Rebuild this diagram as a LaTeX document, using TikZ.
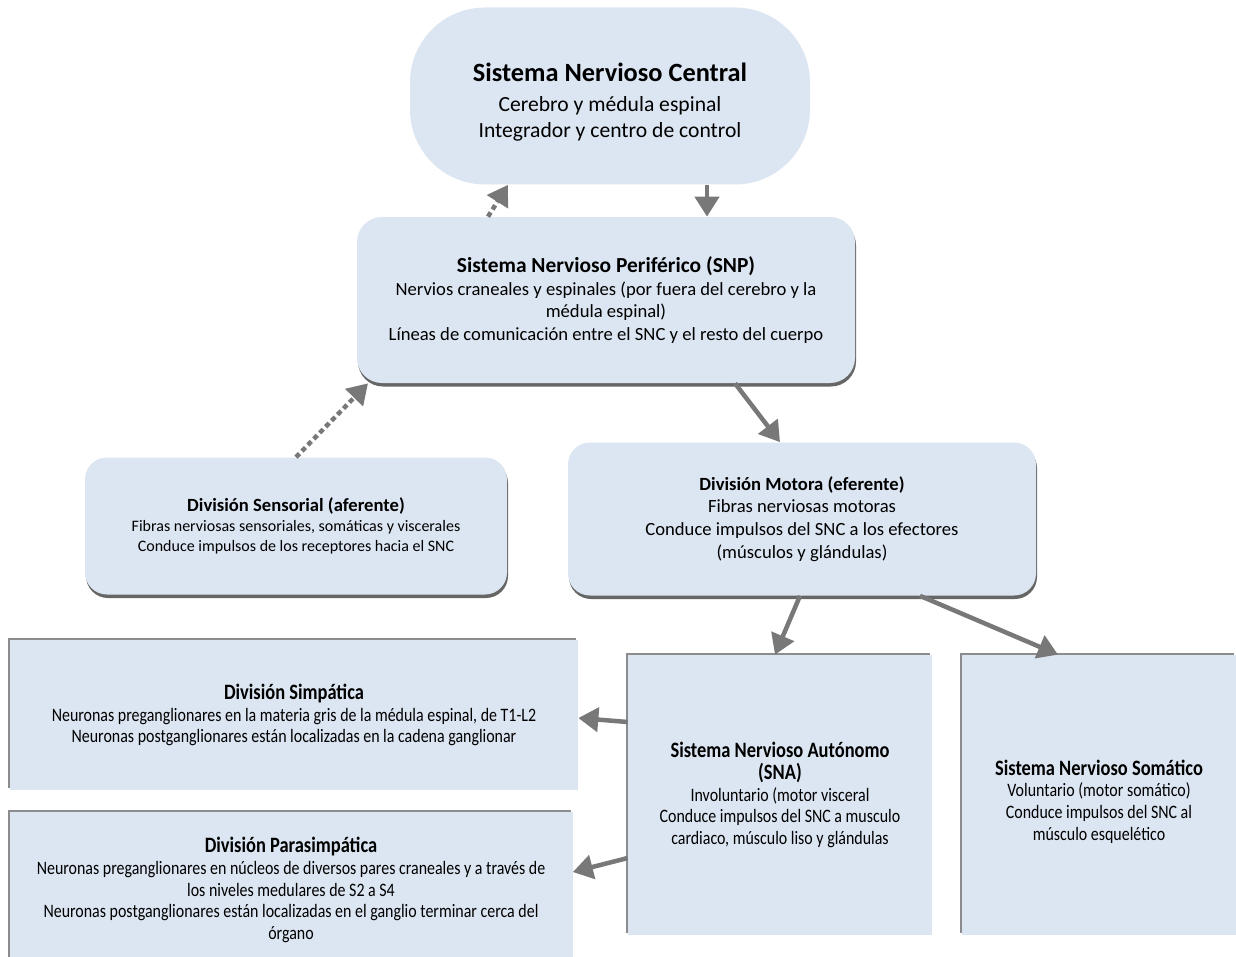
\documentclass[tikz,border=0pt]{standalone}
\usepackage{fontspec}
\setmainfont{Carlito}
\newfontfamily\narrowfont{Carlito}[FakeStretch=0.84]
\usetikzlibrary{arrows.meta,shadows}

\definecolor{boxblue}{RGB}{220,230,242}
\definecolor{arrowgray}{RGB}{120,120,120}
\def\u{0.02cm}

\tikzstyle{roundbox} = [fill=boxblue, align=center, inner sep=0pt]
\tikzstyle{liftbox} = [roundbox, drop shadow={shadow xshift=0.02cm, shadow yshift=-0.07cm, fill=black, opacity=0.6}]
\tikzstyle{flatbox} = [roundbox, font=\narrowfont\fontsize{10.8}{12.4}\selectfont, drop shadow={shadow xshift=-0.04cm, shadow yshift=0.04cm, fill=black!45, opacity=1}]
\tikzstyle{arrow} = [line width=0.09cm, draw=arrowgray, arrowgray, -{Triangle[length=0.4cm,width=0.48cm]}]
\tikzstyle{dasharrow} = [arrow, dash pattern=on 0.1cm off 0.07cm]

\begin{document}
\begin{tikzpicture}[x=\u, y=-\u]
	\fill[white] (0,0) rectangle (1236,956);
	\useasboundingbox (0,0) rectangle (1236,956);

	% upper part
	\node[roundbox, minimum width=400*\u, minimum height=177*\u, rounded corners=75*\u,
		font=\fontsize{12.3}{15}\selectfont] (snc) at (610,96)
		{\mbox{}\\[2.5pt]
		{\fontsize{15}{18}\selectfont\bfseries Sistema Nervioso Central}\\[2pt]
		Cerebro y médula espinal\\
		Integrador y centro de control};
	\node[liftbox, minimum width=498*\u, minimum height=166*\u, rounded corners=25*\u,
		font=\fontsize{10.6}{13}\selectfont] (snp) at (606,300)
		{{\fontsize{12.2}{14}\selectfont\bfseries Sistema Nervioso Periférico (SNP)}\\
		Nervios craneales y espinales (por fuera del cerebro y la\\
		médula espinal)\\
		Líneas de comunicación entre el SNC y el resto del cuerpo};
	\node[liftbox, minimum width=422*\u, minimum height=137*\u, rounded corners=22*\u,
		font=\fontsize{9.1}{11.3}\selectfont] (sens) at (296,526)
		{{\fontsize{10.6}{13}\selectfont\bfseries División Sensorial (aferente)}\\
		Fibras nerviosas sensoriales, somáticas y viscerales\\
		Conduce impulsos de los receptores hacia el SNC};
	\node[liftbox, minimum width=468*\u, minimum height=153*\u, rounded corners=22*\u,
		font=\fontsize{10.6}{13}\selectfont] (mot) at (802,519)
		{{\fontsize{10.6}{13}\selectfont\bfseries División Motora (eferente)}\\
		Fibras nerviosas motoras\\
		Conduce impulsos del SNC a los efectores\\
		(músculos y glándulas)};

	% lower part
	\node[flatbox, minimum width=568*\u, minimum height=150*\u] (simp) at (294,715)
		{{\fontsize{12.5}{15}\selectfont\bfseries División Simpática}\\
		Neuronas preganglionares en la materia gris de la médula espinal, de T1-L2\\
		Neuronas postganglionares están localizadas en la cadena ganglionar};
	\node[flatbox, minimum width=563*\u, minimum height=156*\u] (para) at (291,890)
		{{\fontsize{12.5}{15}\selectfont\bfseries División Parasimpática}\\
		Neuronas preganglionares en núcleos de diversos pares craneales y a través de\\
		los niveles medulares de S2 a S4\\
		Neuronas postganglionares están localizadas en el ganglio terminar cerca del\\
		órgano};
	\node[flatbox, minimum width=304*\u, minimum height=280*\u] (sna) at (780,795)
		{{\fontsize{12.5}{15}\selectfont\bfseries Sistema Nervioso Autónomo}\\
		{\fontsize{12.5}{15}\selectfont\bfseries (SNA)}\\
		Involuntario (motor visceral\\
		Conduce impulsos del SNC a musculo\\
		cardiaco, músculo liso y glándulas};
	\node[flatbox, minimum width=274*\u, minimum height=280*\u] (som) at (1099,795)
		{\mbox{}\\[3.8pt]
		{\fontsize{12.5}{15}\selectfont\bfseries Sistema Nervioso Somático}\\
		Voluntario (motor somático)\\
		Conduce impulsos del SNC al\\
		músculo esquelético};

	\draw [dasharrow] ([xshift=-118*\u]snp.north) -- ([xshift=-102*\u]snc.south);
	\draw [arrow] ([xshift=97*\u]snc.south) -- ([xshift=101*\u]snp.north);
	\draw [dasharrow] (sens.north) -- ([xshift=-238*\u]snp.south);
	\draw [arrow] ([xshift=129*\u]snp.south) -- ([xshift=-22*\u]mot.north);
	\draw [arrow] ([xshift=-2*\u]mot.south) -- ([xshift=-5*\u]sna.north);
	\draw [arrow] ([xshift=118*\u]mot.south) -- ([xshift=-41*\u]som.north);
	\draw [arrow] ([yshift=73*\u]sna.west) -- ([yshift=-3*\u]simp.east);
	\draw [arrow] ([yshift=-63*\u]sna.west) -- ([yshift=18*\u]para.east);
\end{tikzpicture}
\end{document}
